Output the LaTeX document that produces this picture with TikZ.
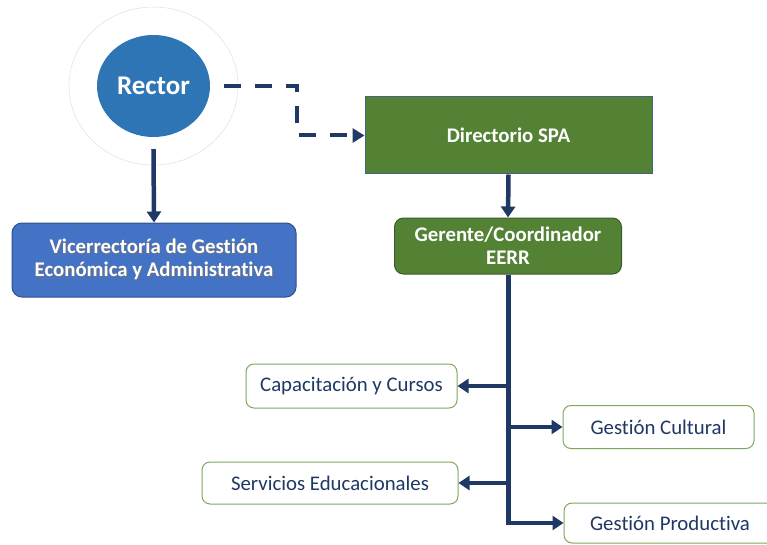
\documentclass[tikz,border=0pt]{standalone}
\usepackage{fontspec}
\setmainfont{Carlito}[Ligatures=NoCommon]
\usetikzlibrary{shapes.geometric,arrows.meta}

\definecolor{navy}{RGB}{31,56,100}
\definecolor{rectorblue}{RGB}{46,117,182}
\definecolor{haloline}{RGB}{214,224,236}
\definecolor{vicefill}{RGB}{68,114,196}
\definecolor{viceline}{RGB}{47,82,143}
\definecolor{spagreen}{RGB}{84,130,53}
\definecolor{spaline}{RGB}{70,100,130}
\definecolor{gerline}{RGB}{58,92,40}
\definecolor{leafline}{RGB}{126,168,96}

% white bold text with a soft dark drop shadow
\newcommand\shtext[1]{\makebox[0pt][l]{\kern0.9pt\raisebox{-0.9pt}{\color{black!55}#1}}#1}

\tikzset{
  x=1pt, y=-1pt,
  halo/.style={ellipse, draw=haloline, line width=0.5pt, minimum width=169, minimum height=158},
  rectorstyle/.style={ellipse, fill=rectorblue, draw=none, minimum width=113, minimum height=102,
    text=white, font=\fontsize{27}{30}\selectfont\bfseries},
  bigbox/.style={draw, line width=1pt, align=center, text=white,
    font=\fontsize{20.8}{24}\selectfont\bfseries, inner sep=0pt},
  leaf/.style={draw=leafline, line width=1pt, fill=white, rounded corners=8pt, text=navy,
    font=\fontsize{20.8}{24}\selectfont, inner sep=0pt},
  link/.style={draw=navy, line width=4.5pt, -{Triangle[length=11pt,width=14pt]}},
  dlink/.style={draw=navy, line width=4pt, dash pattern=on 17pt off 14pt,
    -{Triangle[length=12pt,width=14pt]}},
}

\begin{document}
\begin{tikzpicture}
\useasboundingbox (0,0) rectangle (767,545);

% top of the chart
\node[halo] (halo) at (153.5,86) {};
\node[rectorstyle] (rector) at (153.5,86) {Rector};

\node[bigbox, fill=vicefill, draw=viceline, rounded corners=10pt,
      minimum width=284, minimum height=74] (vice) at (154,260)
  {\shtext{Vicerrectoría de Gestión}\\[-1pt]\shtext{Económica y Administrativa}};

\node[bigbox, fill=spagreen, draw=spaline, minimum width=287, minimum height=77]
  (dir) at (508.5,135.5) {Directorio SPA};

\node[bigbox, fill=spagreen, draw=gerline, rounded corners=9pt,
      minimum width=227, minimum height=56] (ger) at (508,246)
  {Gerente/Coordinador\\[-1pt]EERR};

% units under the manager
\node[leaf, minimum width=211, minimum height=44] (cap)  at (351.5,386) {Capacitación y Cursos};
\node[leaf, minimum width=191, minimum height=43] (cult) at (658.5,427) {Gestión Cultural};
\node[leaf, minimum width=256, minimum height=42] (serv) at (330,483)   {Servicios Educacionales};
\node[leaf, minimum width=212, minimum height=40] (prod) at (670,523)   {Gestión Productiva};

% connectors
\draw[dlink, shorten <=14pt] (rector.east) -| (297,110) |- (dir.west);
\draw[link, shorten <=-1pt] (rector.south |- 0,150) -- (vice.north);
\draw[link] (dir.south) -- (ger.north);

\draw[navy, line width=5pt] (ger.south) -- (ger.south |- prod.west);
\draw[link] ([xshift=-2.5pt]ger.south |- prod.west) -- (prod.west);
\draw[link] (ger.south |- cap.east)  -- (cap.east);
\draw[link] (ger.south |- cult.west) -- (cult.west);
\draw[link] (ger.south |- serv.east) -- (serv.east);
\end{tikzpicture}
\end{document}
